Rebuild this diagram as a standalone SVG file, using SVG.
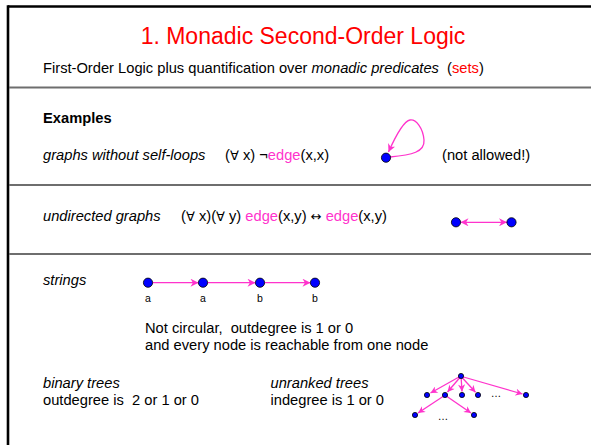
<svg xmlns="http://www.w3.org/2000/svg" width="591" height="445" viewBox="0 0 591 445">
<style>
text{font-family:"Liberation Sans",Arial,sans-serif;fill:#000;white-space:pre}
.b{font-size:14.7px}
.i{font-style:italic}
.pk{fill:#ff33cc}
.red{fill:#ff0000}
.sym{font-family:"DejaVu Sans",sans-serif;font-size:13px}
.sep{stroke:#6e6e6e;stroke-width:2;fill:none}
.node{fill:#0000ff;stroke:#000;stroke-width:0.8}
.edge{stroke:#ff33cc;stroke-width:1.3;fill:none}
.small{font-size:10.5px}
</style>
<defs>
<marker id="ah" markerUnits="userSpaceOnUse" markerWidth="9" markerHeight="8" viewBox="0 0 10 10" refX="10" refY="5" orient="auto-start-reverse">
<path d="M0,0 L10,5 L0,10 L3,5 z" fill="#ff33cc"/>
</marker>
<marker id="ahs" markerUnits="userSpaceOnUse" markerWidth="8" markerHeight="7" viewBox="0 0 10 10" refX="10" refY="5" orient="auto">
<path d="M0,0 L10,5 L0,10 L3,5 z" fill="#ff33cc"/>
</marker>
</defs>
<rect width="591" height="445" fill="#fff"/>
<g id="frame">
<line x1="8" y1="6.5" x2="591" y2="6.5" stroke="#000" stroke-width="2.6"/>
<line x1="8" y1="5.2" x2="8" y2="445" stroke="#000" stroke-width="2.6"/>
<line class="sep" x1="9" y1="87.5" x2="591" y2="87.5"/>
<line class="sep" x1="9" y1="185" x2="591" y2="185"/>
<line class="sep" x1="9" y1="254" x2="591" y2="254"/>
</g>
<g id="title">
<text x="303" y="44" text-anchor="middle" class="red" style="font-size:23px">1. Monadic Second-Order Logic</text>
<text x="43" y="73" class="b">First-Order Logic plus quantification over <tspan class="i">monadic predicates</tspan>  (<tspan class="red">sets</tspan>)</text>
</g>
<g id="examples">
<text x="43" y="123" class="b" font-weight="bold">Examples</text>
<text x="43" y="160" class="b i">graphs without self-loops</text>
<text x="225" y="160" class="b">(<tspan class="sym">∀</tspan> x) ¬<tspan class="pk">edge</tspan>(x,x)</text>
<text x="442" y="160" class="b">(not allowed!)</text>
<text x="43" y="221" class="b i">undirected graphs</text>
<text x="181" y="221" class="b">(<tspan class="sym">∀</tspan> x)(<tspan class="sym">∀</tspan> y) <tspan class="pk">edge</tspan>(x,y) <tspan class="sym">↔</tspan> <tspan class="pk">edge</tspan>(x,y)</text>
<text x="43" y="285" class="b i">strings</text>
<text x="145" y="333" class="b">Not circular,  outdegree is 1 or 0</text>
<text x="145" y="350" class="b">and every node is reachable from one node</text>
<text x="43" y="388" class="b i">binary trees</text>
<text x="43" y="405" class="b">outdegree is  2 or 1 or 0</text>
<text x="270.5" y="388" class="b i">unranked trees</text>
<text x="270.5" y="405" class="b">indegree is 1 or 0</text>
</g>
<g id="connectors">
<path class="edge" marker-end="url(#ah)" d="M390,157 C412,155 425,152 424,140 C423,128 416,119 410,120 C404,121 397,133 388.5,152"/>
<line class="edge" marker-start="url(#ah)" marker-end="url(#ah)" x1="460.5" y1="222.3" x2="507" y2="222.3"/>
<line class="edge" marker-end="url(#ah)" x1="152.5" y1="282.7" x2="198.5" y2="282.7"/>
<line class="edge" marker-end="url(#ah)" x1="207.5" y1="282.7" x2="255.5" y2="282.7"/>
<line class="edge" marker-end="url(#ah)" x1="264.5" y1="282.7" x2="310.5" y2="282.7"/>
<line class="edge" marker-end="url(#ahs)" x1="459" y1="377" x2="430.5" y2="393"/>
<line class="edge" marker-end="url(#ahs)" x1="459.5" y1="378" x2="447.5" y2="392"/>
<line class="edge" marker-end="url(#ahs)" x1="461.2" y1="378.5" x2="462" y2="391.5"/>
<line class="edge" marker-end="url(#ahs)" x1="462.5" y1="378" x2="475.5" y2="392.3"/>
<line class="edge" marker-end="url(#ahs)" x1="463.5" y1="377" x2="522.5" y2="394"/>
<line class="edge" marker-end="url(#ahs)" x1="443" y1="396.5" x2="418" y2="413"/>
<line class="edge" marker-end="url(#ahs)" x1="447" y1="396.5" x2="471" y2="413"/>
</g>
<g id="n-loop"><circle class="node" cx="386" cy="157.7" r="4.6"/></g>
<g id="n-u1"><circle class="node" cx="456" cy="222.3" r="4.6"/></g>
<g id="n-u2"><circle class="node" cx="511.5" cy="222.3" r="4.6"/></g>
<g id="n-s1"><circle class="node" cx="148" cy="282.7" r="4.6"/><text x="148" y="301.5" class="small" text-anchor="middle">a</text></g>
<g id="n-s2"><circle class="node" cx="203" cy="282.7" r="4.6"/><text x="203" y="301.5" class="small" text-anchor="middle">a</text></g>
<g id="n-s3"><circle class="node" cx="260" cy="282.7" r="4.6"/><text x="260" y="301.5" class="small" text-anchor="middle">b</text></g>
<g id="n-s4"><circle class="node" cx="315" cy="282.7" r="4.6"/><text x="315" y="301.5" class="small" text-anchor="middle">b</text></g>
<g id="n-root"><circle class="node" cx="461" cy="376" r="2.6"/></g>
<g id="n-c1"><circle class="node" cx="427" cy="395" r="2.6"/></g>
<g id="n-c2"><circle class="node" cx="445" cy="395" r="2.6"/></g>
<g id="n-c3"><circle class="node" cx="462" cy="395" r="2.6"/></g>
<g id="n-c4"><circle class="node" cx="478" cy="395" r="2.6"/></g>
<g id="n-c5"><circle class="node" cx="526" cy="395" r="2.6"/></g>
<g id="n-g1"><circle class="node" cx="415" cy="415" r="2.6"/></g>
<g id="n-g2"><circle class="node" cx="474" cy="415" r="2.6"/></g>
<g id="dots">
<text x="496" y="397" class="small" text-anchor="middle">…</text>
<text x="443" y="420" class="small" text-anchor="middle">…</text>
</g>
</svg>
